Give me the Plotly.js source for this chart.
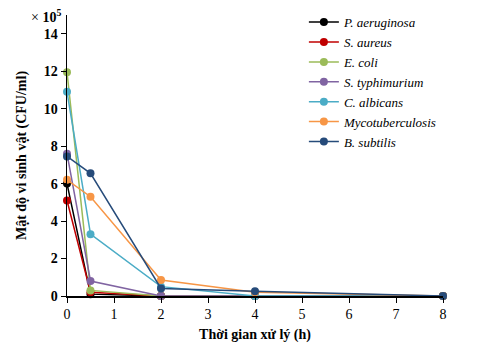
<!DOCTYPE html>
<html>
<head>
<meta charset="utf-8">
<script src="https://cdn.plot.ly/plotly-3.0.1.min.js"></script>
<style>html,body{margin:0;padding:0;background:#fff}#chart{width:500px;height:362px}</style>
</head>
<body>
<div id="chart"></div>
<script>
const times = [0, 0.5, 2, 4, 8];
const seriesNames = ["P. aeruginosa", "S. aureus", "E. coli", "S. typhimurium", "C. albicans", "Mycotuberculosis", "B. subtilis"];
const pAeruginosa = [6.0, 0.1, 0, 0, 0];
const sAureus = [5.1, 0.2, 0, 0, 0];
const eColi = [11.95, 0.3, 0, 0, 0];
const sTyphimurium = [7.6, 0.8, 0, 0, 0];
const cAlbicans = [10.9, 3.3, 0.5, 0, 0];
const mycotuberculosis = [6.2, 5.3, 0.85, 0.2, 0];
const bSubtilis = [7.45, 6.55, 0.4, 0.25, 0];
const colors = ["#000000", "#c00000", "#9bbb59", "#8064a2", "#4bacc6", "#f79646", "#264b7a"];
const values = [pAeruginosa, sAureus, eColi, sTyphimurium, cAlbicans, mycotuberculosis, bSubtilis];

const font = "Liberation Serif";
const traces = values.map((v, i) => ({
  x: times, y: v, type: "scatter", mode: "lines+markers",
  name: "<i>" + seriesNames[i] + "</i>",
  legendgroup: "g" + i,
  line: {color: colors[i], width: 1.5},
  marker: {color: colors[i], size: 8},
  cliponaxis: false
}));

const layout = {
  width: 500, height: 362,
  margin: {l: 67, r: 57, t: 15, b: 66, autoexpand: false},
  paper_bgcolor: "#fff", plot_bgcolor: "#fff",
  font: {family: font, color: "#000"},
  showlegend: true,
  legend: {x: 0.63, y: 1.028, xanchor: "left", yanchor: "top", font: {family: font, size: 13}, tracegroupgap: 0, bgcolor: "rgba(0,0,0,0)"},
  xaxis: {
    range: [0, 8], tickvals: [0,1,2,3,4,5,6,7,8], showgrid: false, zeroline: false,
    showline: true, linecolor: "#000", linewidth: 1.5, ticks: "outside", ticklen: 5, tickcolor: "#000",
    tickfont: {family: font, size: 14},
    title: {text: "<b>Thời gian xử lý (h)</b>", font: {family: font, size: 14}, standoff: 8}
  },
  yaxis: {
    range: [0, 15], tickvals: [0,2,4,6,8,10,12,14], showgrid: false, zeroline: false,
    showline: true, linecolor: "#000", linewidth: 1.5, ticks: "outside", ticklen: 5, tickcolor: "#000",
    tickfont: {family: font, size: 14, weight: "bold"},
    title: {text: "<b>Mật độ vi sinh vật (CFU/ml)</b>", font: {family: font, size: 14}, standoff: 14}
  },
  annotations: [{
    xref: "paper", yref: "paper", x: -0.01, y: 0.995, xanchor: "right", yanchor: "middle",
    text: "× <b>10<sup>5</sup></b>", showarrow: false, font: {family: font, size: 14}
  }]
};
Plotly.newPlot("chart", traces, layout, {displayModeBar: false, staticPlot: true});
</script>
</body>
</html>
